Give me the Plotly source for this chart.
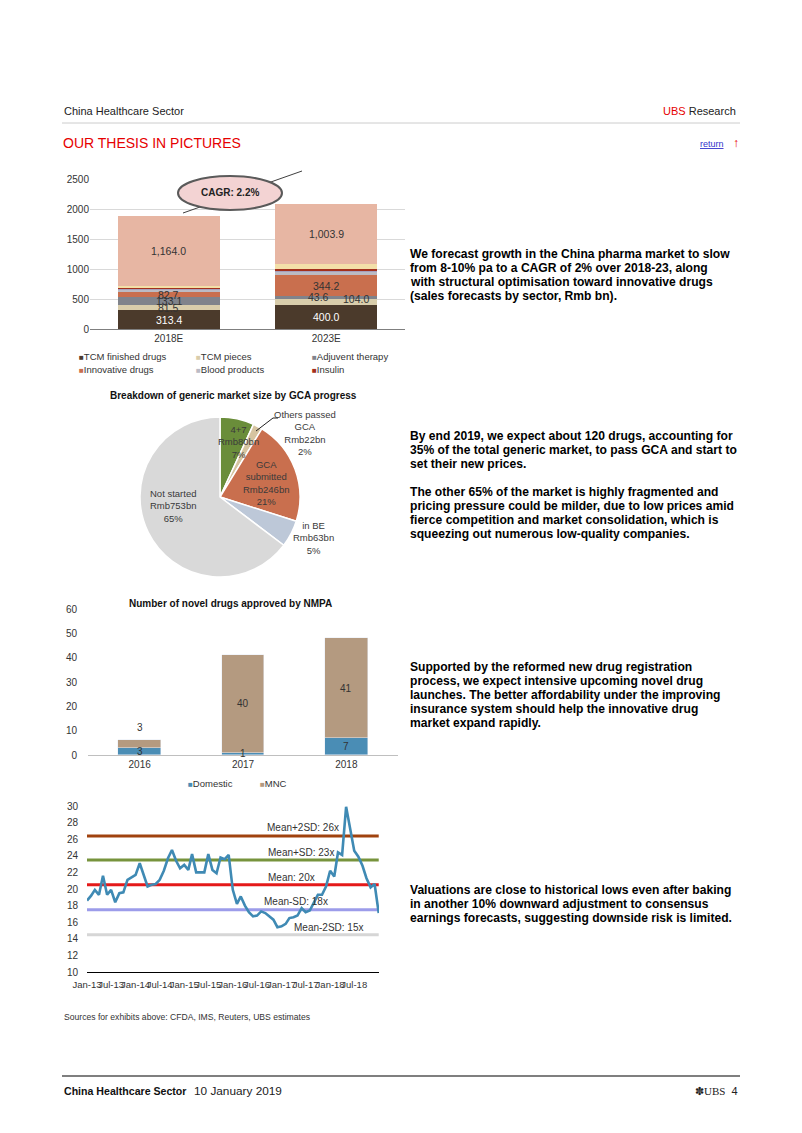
import plotly.graph_objects as go
import pandas as pd

W, H = 802, 1133
OFF = 8  # page body margin of the rendered html


def px(x):
    return (x - OFF) / W


def py(y):
    return 1 - (y - OFF) / H


FONT = "Liberation Sans, Arial, sans-serif"
DARK = "#333333"

# ---------------- Chart 1: pharma market by sector (Rmb bn) ----------------
years1 = ["2018E", "2023E"]
tcm_finished = [313.4, 400.0]
tcm_pieces = [81.5, 104.0]
adjuvant = [133.1, 43.6]
innovative = [82.7, 344.2]
blood_products = [40.0, 65.0]
other_small = [20.0, 25.0]
insulin = [15.0, 20.0]
other_mid = [30.0, 80.0]
generics = [1164.0, 1003.9]
cagr_text = "CAGR: 2.2%"

seg1 = [
    ("TCM finished drugs", tcm_finished, "#4B3A2B", True),
    ("TCM pieces", tcm_pieces, "#D9CDAB", True),
    ("Adjuvent therapy", adjuvant, "#80838B", True),
    ("Innovative drugs", innovative, "#C96F4E", True),
    ("Blood products", blood_products, "#BBBBC4", True),
    ("Others", other_small, "#A79FBD", False),
    ("Insulin", insulin, "#A3301C", True),
    ("Others (2)", other_mid, "#F3DFA8", False),
    ("Generics", generics, "#E7B6A3", False),
]

# ---------------- Chart 2: generic market by GCA progress ----------------
pie_labels = ["4+7", "Others passed GCA", "GCA submitted", "in BE", "Not started"]
pie_values = [80, 22, 246, 63, 753]
pie_colors = ["#6A8D3A", "#D6C4A0", "#C96F4E", "#BDC8D8", "#D9D9D9"]

# ---------------- Chart 3: novel drugs approved by NMPA ----------------
years3 = ["2016", "2017", "2018"]
domestic = [3, 1, 7]
mnc = [3, 40, 41]

# ---------------- Chart 4: PE valuation band ----------------
pe_values = [
    18.6, 19.2, 19.9, 19.3, 21.6, 19.3, 19.9, 18.4, 19.5, 19.6, 21.1, 21.4,
    21.7, 23.1, 21.8, 20.3, 20.5, 20.6, 21.1, 22.2, 23.7, 24.7, 23.4, 22.5,
    22.9, 22.3, 24.2, 22.0, 22.0, 22.0, 24.2, 22.3, 21.9, 23.8, 23.6, 24.1,
    19.9, 18.2, 19.1, 18.0, 17.2, 16.7, 16.8, 17.3, 17.1, 16.7, 16.3, 15.4,
    15.5, 15.8, 16.5, 16.6, 16.8, 17.7, 17.2, 17.4, 18.4, 19.3, 19.3, 20.3,
    22.2, 21.5, 24.4, 24.1, 29.9, 27.0, 24.6, 23.9, 22.8, 21.3, 20.2, 20.6,
    17.1,
]
pe_dates = pd.date_range("2013-01-01", periods=len(pe_values), freq="MS")
band_names = ["Mean+2SD: 26x", "Mean+SD: 23x", "Mean: 20x", "Mean-SD: 18x", "Mean-2SD: 15x"]
band_values = [26.4, 23.5, 20.5, 17.5, 14.5]
band_colors = ["#A0420E", "#77933C", "#E41A1A", "#9C9CEA", "#D6D6D6"]
x_tick_dates = pd.date_range("2013-01-01", "2018-07-01", freq="6MS")

fig = go.Figure()

for name, vals, col, _ in seg1:
    fig.add_trace(go.Bar(x=years1, y=vals, name=name, marker=dict(color=col, line=dict(width=0)),
                         width=0.65, xaxis="x", yaxis="y", showlegend=False, hoverinfo="skip"))

fig.add_trace(go.Pie(values=pie_values, labels=pie_labels, sort=False, direction="clockwise",
                     rotation=0, textinfo="none", showlegend=False, automargin=False,
                     marker=dict(colors=pie_colors, line=dict(color="white", width=1.5)),
                     domain=dict(x=[px(140), px(300)], y=[py(577), py(417)])))

fig.add_trace(go.Bar(x=years3, y=domestic, name="Domestic", marker=dict(color="#4A8DB5"),
                     width=0.41, xaxis="x2", yaxis="y2", showlegend=False))
fig.add_trace(go.Bar(x=years3, y=mnc, name="MNC", marker=dict(color="#B49A80"),
                     width=0.41, xaxis="x2", yaxis="y2", showlegend=False))

x_end = [pe_dates[0], pd.Timestamp("2019-01-01")]
for name, v, col in zip(band_names, band_values, band_colors):
    fig.add_trace(go.Scatter(x=x_end, y=[v, v], mode="lines", line=dict(color=col, width=3),
                             xaxis="x3", yaxis="y3", showlegend=False, name=name))
fig.add_trace(go.Scatter(x=pe_dates, y=pe_values, mode="lines", line=dict(color="#3F8AB4", width=2.6),
                         xaxis="x3", yaxis="y3", showlegend=False, name="PE"))

ann = []


def text(t, x, y, size=10, color=DARK, xanchor="left", yanchor="middle", family=FONT, bold=False):
    if bold:
        t = "<b>" + t + "</b>"
    ann.append(dict(text=t, x=px(x), y=py(y), xref="paper", yref="paper", showarrow=False,
                    xanchor=xanchor, yanchor=yanchor, font=dict(size=size, color=color, family=family)))


label_fmt = lambda v: f"{v:,.1f}"
labeled = {"TCM finished drugs": "#FFFFFF", "TCM pieces": DARK, "Adjuvent therapy": DARK,
           "Innovative drugs": DARK, "Generics": DARK}
xshift1 = {("TCM pieces", 1): 30, ("Adjuvent therapy", 1): -8}
yshift1 = {("TCM pieces", 1): 3}
for i, yr in enumerate(years1):
    base = 0
    for name, vals, col, _ in seg1:
        v = vals[i]
        if name in labeled:
            ann.append(dict(text=label_fmt(v), x=i, y=base + v / 2, xref="x", yref="y", showarrow=False,
                            xshift=xshift1.get((name, i), 0), yshift=yshift1.get((name, i), 0),
                            font=dict(size=10.5, color=labeled[name], family=FONT)))
        base += v

leg_pos = [(77, 356), (194, 356), (310, 356), (77, 369), (194, 369), (310, 369)]
leg_items = [s for s in seg1 if s[3]]
for (lx, ly), (name, _, col, _) in zip(leg_pos, leg_items):
    text(f"<span style='color:{col};font-size:8px'>■</span>{name}", lx, ly, size=9.5)

text(cagr_text, 230, 193, size=10, color="#222222", xanchor="center", bold=True)

text("Breakdown of generic market size by GCA progress", 233, 396, size=10, color="#111111",
     xanchor="center", bold=True)
pie_label_pos = [(238, 442), (305, 433), (266, 483), (313, 538), (173, 506)]
pie_label_text = [
    "4+7<br>Rmb80bn<br>7%",
    "Others passed<br>GCA<br>Rmb22bn<br>2%",
    "GCA<br>submitted<br>Rmb246bn<br>21%",
    "in BE<br>Rmb63bn<br>5%",
    "Not started<br>Rmb753bn<br>65%",
]
for (lx, ly), t in zip(pie_label_pos, pie_label_text):
    ann.append(dict(text=t, x=px(lx), y=py(ly), xref="paper", yref="paper", showarrow=False,
                    xanchor="center", yanchor="middle",
                    font=dict(size=9.5, color="#3A3A3A", family=FONT)))

text("Number of novel drugs approved by NMPA", 230, 603, size=10, color="#111111", xanchor="center", bold=True)
for i, yr in enumerate(years3):
    ann.append(dict(text=str(domestic[i]), x=i, y=domestic[i] / 2, xref="x2", yref="y2", showarrow=False,
                    font=dict(size=10, color=DARK, family=FONT)))
    if mnc[i] < 5:
        ann.append(dict(text=str(mnc[i]), x=i, y=domestic[i] + mnc[i], xref="x2", yref="y2", showarrow=False,
                        yanchor="bottom", yshift=5, font=dict(size=10, color=DARK, family=FONT)))
    else:
        ann.append(dict(text=str(mnc[i]), x=i, y=domestic[i] + mnc[i] / 2, xref="x2", yref="y2",
                        showarrow=False, font=dict(size=10, color=DARK, family=FONT)))
text("<span style='color:#4A8DB5;font-size:8px'>■</span>Domestic", 186, 783, size=9.5)
text("<span style='color:#B49A80;font-size:8px'>■</span>MNC", 258, 783, size=9.5)

band_label_pos = [(265, 827), (266, 852), (266, 877), (262, 901), (292, 927)]
for (lx, ly), t in zip(band_label_pos, band_names):
    text(t, lx, ly, size=10, color="#333333")

text("China Healthcare Sector", 62, 111, size=11, color="#222222")
text("<span style='color:#E60000'>UBS</span> Research", 738, 111, size=11, color="#222222", xanchor="right")
text("OUR THESIS IN PICTURES", 61, 143, size=14, color="#E60000")
text("<u>return</u>", 726, 144, size=9, color="#3333CC", xanchor="right")
text("↑", 736, 143, size=12, color="#E60000", xanchor="center")

paras = [
    (254, ["We forecast growth in the China pharma market to slow",
           "from 8-10% pa to a CAGR of 2% over 2018-23, along",
           "with structural optimisation toward innovative drugs",
           "(sales forecasts by sector, Rmb bn)."]),
    (436, ["By end 2019, we expect about 120 drugs, accounting for",
           "35% of the total generic market, to pass GCA and start to",
           "set their new prices."]),
    (492, ["The other 65% of the market is highly fragmented and",
           "pricing pressure could be milder, due to low prices amid",
           "fierce competition and market consolidation, which is",
           "squeezing out numerous low-quality companies."]),
    (667, ["Supported by the reformed new drug registration",
           "process, we expect intensive upcoming novel drug",
           "launches. The better affordability under the improving",
           "insurance system should help the innovative drug",
           "market expand rapidly."]),
    (890, ["Valuations are close to historical lows even after baking",
           "in another 10% downward adjustment to consensus",
           "earnings forecasts, suggesting downside risk is limited."]),
]
for y0, lines in paras:
    for k, ln in enumerate(lines):
        text(ln, 408, y0 + 14 * k, size=12.1, color="#000000", bold=True)

text("Sources for exhibits above: CFDA, IMS, Reuters, UBS estimates", 62, 1017, size=8.6, color="#333333")
text("<b>China Healthcare Sector</b>", 62, 1091, size=10.6, color="#111111")
text("10 January 2019", 192, 1091, size=11.8, color="#222222")
text("<span style='font-family:Liberation Serif'>✽UBS</span>  4", 740, 1091, size=11, color="#222222",
     xanchor="right")

shapes = [
    dict(type="line", xref="paper", yref="paper", x0=px(62), x1=px(740), y0=py(123), y1=py(123),
         line=dict(color="#CCCCCC", width=1)),
    dict(type="line", xref="paper", yref="paper", x0=px(62), x1=px(740), y0=py(1076), y1=py(1076),
         line=dict(color="#555555", width=1.5)),
    dict(type="line", xref="paper", yref="paper", x0=px(183), x1=px(302), y0=py(213), y1=py(171),
         line=dict(color="#404040", width=1)),
    dict(type="circle", xref="paper", yref="paper", x0=px(178), x1=px(282), y0=py(210), y1=py(176),
         fillcolor="#F3D3D3", line=dict(color="#5A5A5A", width=2)),
    dict(type="line", xref="paper", yref="paper", x0=px(256), x1=px(273), y0=py(431), y1=py(418),
         line=dict(color="#222222", width=1)),
    dict(type="line", xref="paper", yref="paper", x0=px(273), x1=px(278), y0=py(418), y1=py(418),
         line=dict(color="#222222", width=1)),
]

tickfont = dict(size=10, color="#333333", family=FONT)
fig.update_layout(
    width=W, height=H, margin=dict(l=0, r=0, t=0, b=0, pad=0, autoexpand=False),
    paper_bgcolor="white", plot_bgcolor="rgba(0,0,0,0)",
    barmode="stack", bargap=0, font=dict(family=FONT), showlegend=False,
    annotations=ann, shapes=shapes,
    xaxis=dict(domain=[px(90), px(405)], anchor="y", type="category", range=[-0.5, 1.5],
               showline=True, linecolor="#7F7F7F", linewidth=1.2, ticks="", tickfont=tickfont,
               showgrid=False, automargin=False),
    yaxis=dict(domain=[py(329), py(179)], anchor="x", range=[0, 2500], dtick=500, showgrid=True,
               gridcolor="#D9D9D9", gridwidth=1, zeroline=False, tickfont=tickfont, ticks="",
               automargin=False),
    xaxis2=dict(domain=[px(88), px(398)], anchor="y2", type="category", range=[-0.5, 2.5],
                showline=True, linecolor="#BFBFBF", ticks="", tickfont=tickfont, showgrid=False,
                automargin=False),
    yaxis2=dict(domain=[py(755), py(609)], anchor="x2", range=[0, 60], dtick=10, showgrid=False,
                zeroline=False, tickfont=tickfont, ticks="", automargin=False, ticklabelstandoff=10),
    xaxis3=dict(domain=[px(87), px(379)], anchor="y3", type="date",
                range=["2013-01-01", "2019-01-03"], tickvals=list(x_tick_dates), tickformat="%b-%y",
                tickangle=0, showline=True, linecolor="#000000", linewidth=1.2, ticks="",
                tickfont=dict(size=9.5, color="#333333", family=FONT), showgrid=False, automargin=False,
                ticklabelstandoff=3),
    yaxis3=dict(domain=[py(972), py(806)], anchor="x3", range=[10, 30], dtick=2, showgrid=False,
                zeroline=False, tickfont=tickfont, ticks="", automargin=False, ticklabelstandoff=8),
)

fig.write_html("out.html")
